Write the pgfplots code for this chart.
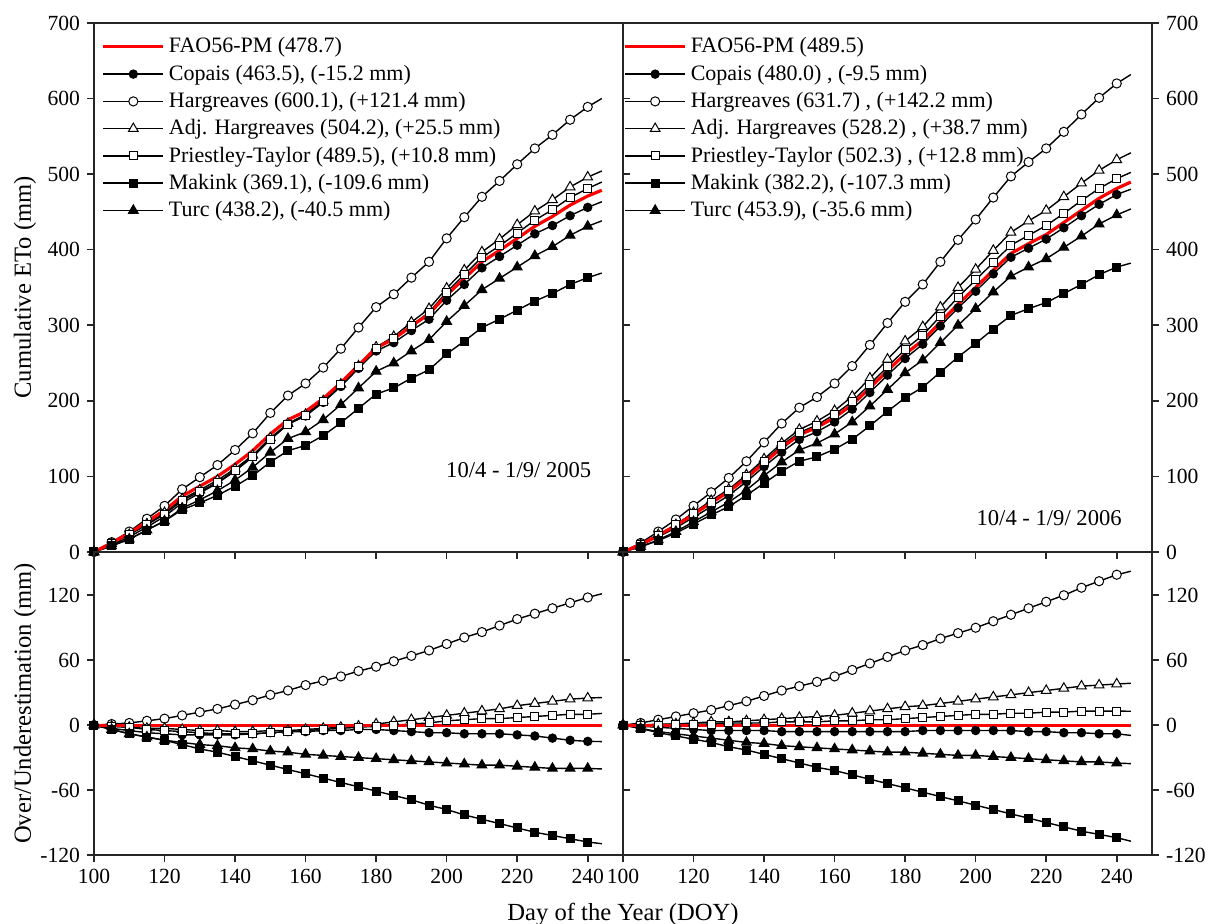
\documentclass[border=0pt]{standalone}
\usepackage{fontspec}
\setmainfont{Liberation Serif}
\usepackage{pgfplots}
\pgfplotsset{compat=1.18}
\usepackage{pgfplotstable}

\pgfplotstableread{
x F C H A P M T
100 0 0 0 0 0 0 0
105 12 9 13 11 11 8 8
110 25 20 27 23 23 17 17
115 40 33 44 37 36 29 29
120 55 47 61 52 50 41 41
125 74 65 83 70 68 56 58
130 87 78 99 82 80 65 69
135 100 91 115 95 92 75 81
140 116 107 135 110 108 87 95
145 134 126 157 128 126 101 112
150 156 149 184 151 149 119 132
155 175 169 207 170 169 134 150
160 186 180 223 182 181 141 159
165 203 198 244 200 199 154 175
170 224 219 269 222 221 171 195
175 247 243 297 246 245 190 217
180 270 266 324 271 269 209 239
185 282 277 341 285 282 217 250
190 299 293 363 304 300 230 266
195 315 308 384 322 317 241 281
200 340 333 415 349 344 262 305
205 362 354 443 373 367 279 326
210 384 376 470 397 390 297 347
215 399 391 491 414 405 308 362
220 415 406 513 433 422 320 377
225 431 421 534 451 439 332 392
230 444 432 552 466 453 342 404
235 459 445 572 483 469 354 419
240 471 456 589 496 481 363 431
244 478.7 463.5 600.1 504.2 489.5 369.1 438.2
}\topA

\pgfplotstableread{
x C H A P M T
100 0 0 0 0 0 0
105 -3 1 -1 -1 -4 -4
110 -5 2 -2 -2 -8 -8
115 -7 4 -3 -4 -11 -11
120 -8 6 -3 -5 -14 -14
125 -9 9 -4 -6 -18 -16
130 -9 12 -5 -7 -22 -18
135 -9 15 -5 -8 -25 -19
140 -9 19 -6 -8 -29 -21
145 -8 23 -6 -8 -33 -22
150 -7 28 -5 -7 -37 -24
155 -6 32 -5 -6 -41 -25
160 -6 37 -4 -5 -45 -27
165 -5 41 -3 -4 -49 -28
170 -5 45 -2 -3 -53 -29
175 -4 50 -1 -2 -57 -30
180 -4 54 1 -1 -61 -31
185 -5 59 3 0 -65 -32
190 -6 64 5 1 -69 -33
195 -7 69 7 2 -74 -34
200 -7 75 9 4 -78 -35
205 -8 81 11 5 -83 -36
210 -8 86 13 6 -87 -37
215 -8 92 15 6 -91 -37
220 -9 98 18 7 -95 -38
225 -10 103 20 8 -99 -39
230 -12 108 22 9 -102 -40
235 -14 113 24 10 -105 -40
240 -15 118 25 10 -108 -40
244 -15.2 121.4 25.5 10.8 -109.6 -40.5
}\botA

\pgfplotstableread{
x F C H A P M T
100 0 0 0 0 0 0 0
105 10 9 12 10 10 7 7
110 22 20 27 23 22 15 16
115 35 32 43 36 36 25 27
120 50 46 61 52 51 37 40
125 65 60 79 68 66 49 53
130 80 75 98 83 82 60 66
135 98 93 120 102 100 75 82
140 118 113 145 123 120 91 101
145 138 132 170 144 141 107 119
150 155 149 191 162 158 120 135
155 165 159 205 173 168 126 144
160 178 172 223 187 182 136 156
165 195 189 246 206 199 149 172
170 217 211 274 230 222 167 193
175 240 234 303 255 245 186 215
180 262 256 331 279 268 204 237
185 280 275 354 298 287 218 254
190 304 299 384 324 312 238 277
195 328 323 413 350 337 258 300
200 350 345 440 374 360 276 322
205 373 368 469 399 383 295 344
210 395 390 497 423 406 313 365
215 408 402 516 438 419 322 377
220 420 414 534 452 432 330 388
225 436 429 556 470 448 342 403
230 452 445 579 488 465 354 418
235 468 460 601 505 481 367 434
240 481 473 620 519 494 377 446
244 489.5 480.0 631.7 528.2 502.3 382.2 453.9
}\topB

\pgfplotstableread{
x C H A P M T
100 0 0 0 0 0 0
105 -1 2 0 0 -3 -3
110 -2 5 1 0 -7 -6
115 -3 8 1 1 -10 -8
120 -4 11 2 1 -13 -10
125 -5 14 3 1 -16 -12
130 -5 18 3 2 -20 -14
135 -5 22 4 2 -23 -16
140 -5 27 5 2 -27 -17
145 -6 32 6 3 -31 -19
150 -6 36 7 3 -35 -20
155 -6 40 8 3 -39 -21
160 -6 45 9 4 -42 -22
165 -6 51 11 4 -46 -23
170 -6 57 13 5 -50 -24
175 -6 63 15 5 -54 -25
180 -6 69 17 6 -58 -25
185 -5 74 18 7 -62 -26
190 -5 80 20 8 -66 -27
195 -5 85 22 9 -70 -28
200 -5 90 24 10 -74 -28
205 -5 96 26 10 -78 -29
210 -5 102 28 11 -82 -30
215 -6 108 30 11 -86 -31
220 -6 114 32 12 -90 -32
225 -7 120 34 12 -94 -33
230 -7 127 36 13 -98 -34
235 -8 133 37 13 -101 -34
240 -8 139 38 13 -104 -35
244 -9.5 142.2 38.7 12.8 -107.3 -35.6
}\botB

\pgfplotsset{
  base/.style={
    scale only axis, width=264.5pt,
    xmin=100, xmax=250, xtick={100,120,...,240},
    axis line style={line width=0.8pt, black!85},
    tick style={line width=0.8pt, black!85},
    major tick length=3.5pt, tick align=outside,
    xtick pos=bottom,
    every tick label/.append style={font=\fontsize{10.8}{12}\selectfont},
    /pgf/number format/assume math mode=true,
    legend cell align=left,
    legend style={draw=none, fill=none, anchor=north west,
      font=\fontsize{11}{13}\selectfont, row sep=0.5pt},
    legend image code/.code={\draw (0pt,0pt) -- (30pt,0pt); \draw plot coordinates {(15pt,0pt)};},
  },
  topax/.style={base, height=264.5pt, ymin=0, ymax=700, ytick={0,100,...,700}, xticklabels={}},
  botax/.style={base, height=151.5pt, ymin=-120, ymax=160, ytick={-120,-60,0,60,120}},
  ylab/.style={every axis y label/.style={at={(axis description cs:0,0.5)}, xshift=-34.5pt, anchor=center, rotate=90, font=\fontsize{12.3}{14}\selectfont}},
  ser/.style={black, line width=0.7pt, mark indices={1,...,29}},
  sC/.style={ser, mark=*, mark size=2.1pt, mark options={fill=black, line width=0.5pt}},
  sH/.style={ser, mark=*, mark size=2.3pt, mark options={fill=white, line width=0.5pt}},
  sA/.style={ser, mark=triangle*, mark size=2.8pt, mark options={fill=white, line width=0.5pt}},
  sP/.style={ser, mark=square*, mark size=2.0pt, mark options={fill=white, line width=0.5pt}},
  sM/.style={ser, mark=square*, mark size=2.0pt, mark options={fill=black, line width=0.5pt}},
  sT/.style={ser, mark=triangle*, mark size=2.8pt, mark options={fill=black, line width=0.5pt}},
  sF/.style={red, line width=1.6pt, mark=none},
}

\begin{document}
\begin{tikzpicture}
\useasboundingbox (-47pt,-34.5pt) rectangle (559pt,427.5pt);

% top left
\begin{axis}[topax, at={(0pt,151.5pt)}, anchor=south west, ytick pos=both,
  ylabel={Cumulative ETo (mm)}, ylab,
  legend style={at={(0.0025,0.988)}}]
\addlegendimage{sF}
\addlegendentry{FAO56-PM (478.7)}
\addplot[sC] table[x=x,y=C]{\topA}; \addlegendentry{Copais (463.5), (-15.2 mm)}
\addplot[sH] table[x=x,y=H]{\topA}; \addlegendentry{Hargreaves (600.1), (+121.4 mm)}
\addplot[sA] table[x=x,y=A]{\topA}; \addlegendentry{Adj. Hargreaves (504.2), (+25.5 mm)}
\addplot[sP] table[x=x,y=P]{\topA}; \addlegendentry{Priestley-Taylor (489.5), (+10.8 mm)}
\addplot[sM] table[x=x,y=M]{\topA}; \addlegendentry{Makink (369.1), (-109.6 mm)}
\addplot[sT] table[x=x,y=T]{\topA}; \addlegendentry{Turc (438.2), (-40.5 mm)}
\addplot[sF, forget plot] table[x=x,y=F]{\topA};
\node[anchor=east, font=\fontsize{11.3}{13}\selectfont] at (axis cs:243,108) {10/4 - 1/9/ 2005};
\end{axis}

% top right
\begin{axis}[topax, at={(264.5pt,151.5pt)}, anchor=south west, ytick pos=right, yticklabel pos=right,
  legend style={at={(-0.011,0.988)}}]
\addlegendimage{sF}
\addlegendentry{FAO56-PM (489.5)}
\addplot[sC] table[x=x,y=C]{\topB}; \addlegendentry{Copais (480.0) , (-9.5 mm)}
\addplot[sH] table[x=x,y=H]{\topB}; \addlegendentry{Hargreaves (631.7) , (+142.2 mm)}
\addplot[sA] table[x=x,y=A]{\topB}; \addlegendentry{Adj. Hargreaves (528.2) , (+38.7 mm)}
\addplot[sP] table[x=x,y=P]{\topB}; \addlegendentry{Priestley-Taylor (502.3) , (+12.8 mm)}
\addplot[sM] table[x=x,y=M]{\topB}; \addlegendentry{Makink (382.2),  (-107.3 mm)}
\addplot[sT] table[x=x,y=T]{\topB}; \addlegendentry{Turc (453.9), (-35.6 mm)}
\addplot[sF, forget plot] table[x=x,y=F]{\topB};
\node[anchor=east, font=\fontsize{11.3}{13}\selectfont] at (axis cs:243.4,45) {10/4 - 1/9/ 2006};
\end{axis}

% bottom left
\begin{axis}[botax, at={(0pt,0pt)}, anchor=south west, ytick pos=both,
  ylabel={Over/Underestimation (mm)}, ylab,
  xlabel={Day of the Year (DOY)},
  every axis x label/.style={at={(axis description cs:1,0)}, yshift=-30pt, anchor=center, font=\fontsize{12.3}{14}\selectfont}]
\addplot[sC] table[x=x,y=C]{\botA};
\addplot[sH] table[x=x,y=H]{\botA};
\addplot[sA] table[x=x,y=A]{\botA};
\addplot[sP] table[x=x,y=P]{\botA};
\addplot[sM] table[x=x,y=M]{\botA};
\addplot[sT] table[x=x,y=T]{\botA};
\addplot[sF] coordinates {(100,0) (244,0)};
\end{axis}

% bottom right
\begin{axis}[botax, at={(264.5pt,0pt)}, anchor=south west, ytick pos=right, yticklabel pos=right]
\addplot[sC] table[x=x,y=C]{\botB};
\addplot[sH] table[x=x,y=H]{\botB};
\addplot[sA] table[x=x,y=A]{\botB};
\addplot[sP] table[x=x,y=P]{\botB};
\addplot[sM] table[x=x,y=M]{\botB};
\addplot[sT] table[x=x,y=T]{\botB};
\addplot[sF] coordinates {(100,0) (244,0)};
\end{axis}
\end{tikzpicture}
\end{document}
